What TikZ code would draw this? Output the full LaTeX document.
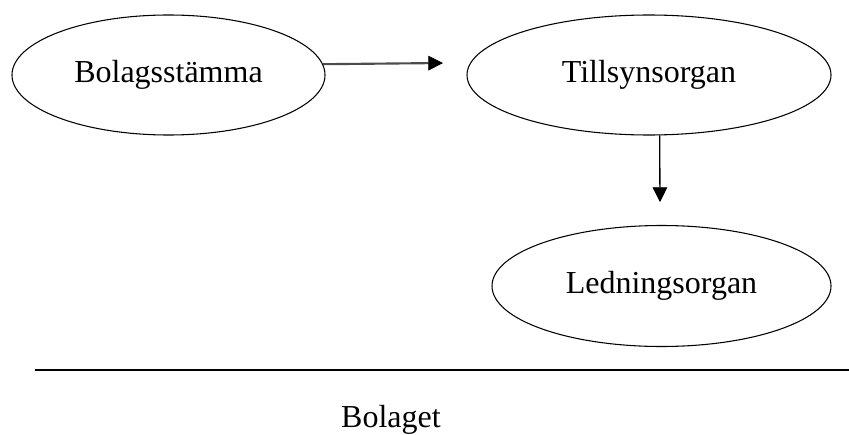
\documentclass[tikz,border=0pt]{standalone}
\usepackage{fontspec}
\setmainfont{Liberation Serif}
\usetikzlibrary{shapes.geometric,arrows.meta}

\begin{document}
\begin{tikzpicture}[x=0.75pt,y=-0.75pt]
\tikzset{organ/.style={draw, ellipse, line width=0.8pt, inner sep=0pt, font=\fontsize{24}{29}\selectfont}}
\newcommand{\tip}{{Triangle[length=11pt,width=11pt,color=black,line width=0.5pt]}}

\useasboundingbox (0,0) rectangle (849,435);

\node [organ, minimum width=234.75pt, minimum height=90pt] (stamma) at (168.5,75) {Bolagsstämma};
\node [organ, minimum width=273pt, minimum height=90pt] (tillsyn) at (649,75) {Tillsynsorgan};
\node [organ, minimum width=254.25pt, minimum height=90.75pt] (ledning) at (661.5,286) {Ledningsorgan};

\coordinate (H) at (443,63);
\coordinate (V) at (660,202);
\draw [-\tip, line width=1.6pt, color=black!70] (stamma.4) -- (H);
\draw [-\tip, line width=1pt] (tillsyn.-80) -- (V);

% bolagets gräns
\coordinate (L1) at (35,370);
\coordinate (L2) at (849,370);
\draw [line width=1.4pt] (L1) -- (L2);
\node [font=\fontsize{24}{29}\selectfont] (bolaget) at (391,420) {Bolaget};
\end{tikzpicture}
\end{document}
